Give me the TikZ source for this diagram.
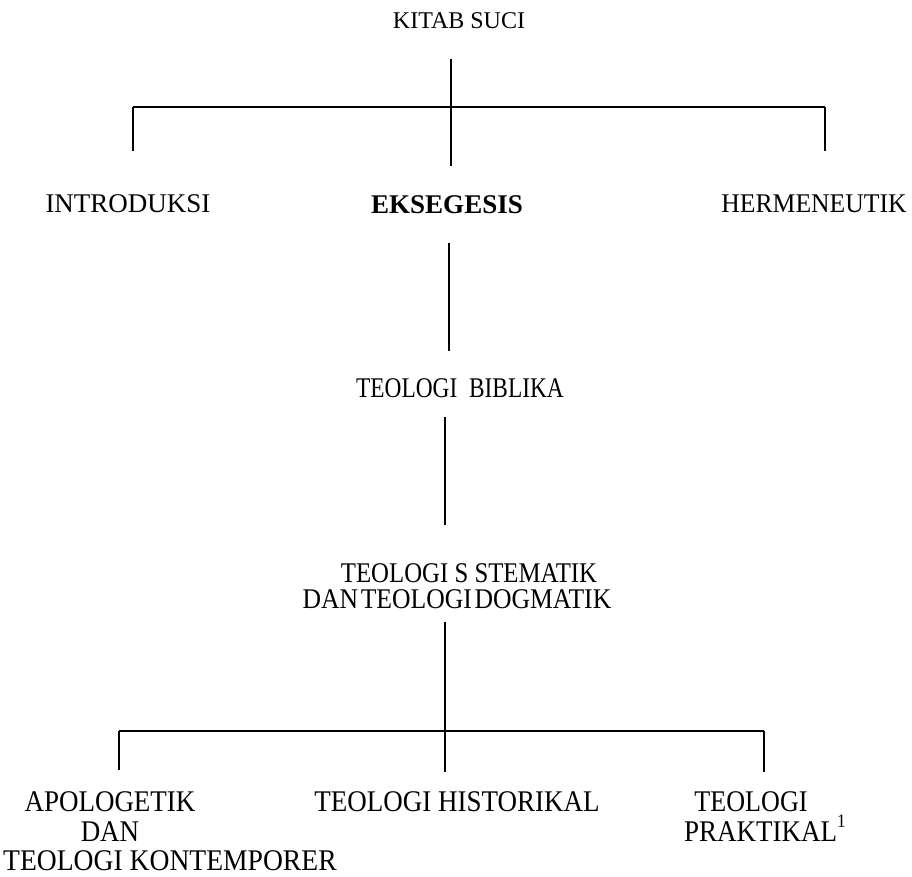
\documentclass[tikz,border=0pt]{standalone}
\usepackage{fontspec}
\setmainfont{Liberation Serif}
\begin{document}
\begin{tikzpicture}[x=1pt,y=-1pt,
  lbl/.style={inner sep=0pt,anchor=base,font=\fontsize{27}{27}\selectfont},
  mid/.style={lbl,font=\fontsize{28.5}{28.5}\selectfont},
  low/.style={lbl,font=\fontsize{30}{30}\selectfont},
  conn/.style={line width=1.2pt}]
\useasboundingbox (0,0) rectangle (912,876);
\fill[white] (0,0) rectangle (912,876);
% texts
\node[lbl,font=\fontsize{24}{24}\selectfont] (kitab) at (459,28) {KITAB SUCI};
\node[lbl] (intro) at (128,212) {INTRODUKSI};
\node[lbl,font=\fontsize{27}{27}\selectfont\bfseries] (eks) at (447,213) {EKSEGESIS};
\node[lbl] (herm) at (814,212) {\scalebox{0.95}[1]{HERMENEUTIK}};
\node[mid] (bib) at (460,397) {\scalebox{0.82}[1]{TEOLOGI\ \ BIBLIKA}};
\node[mid] (sis1) at (469,582) {\scalebox{0.87}[1]{TEOLOGI S STEMATIK}};
\node[mid] (sis2) at (457,608) {\scalebox{0.9}[1]{DAN\hspace{0.1em}TEOLOGI\hspace{0.1em}DOGMATIK}};
\node[low] (apo1) at (110,811) {\scalebox{0.9}[1]{APOLOGETIK}};
\node[low] (apo2) at (110,841) {\scalebox{0.9}[1]{DAN}};
\node[low,anchor=base west] (apo3) at (3,870) {\scalebox{0.92}[1]{TEOLOGI KONTEMPORER}};
\node[low] (hist) at (457,811) {\scalebox{0.9}[1]{TEOLOGI HISTORIKAL}};
\node[low] (prak1) at (751,811) {\scalebox{0.87}[1]{TEOLOGI}};
\node[low,anchor=base west] (prak2) at (684,841) {\scalebox{0.9}[1]{PRAKTIKAL\raisebox{0.45em}{\fontsize{19}{19}\selectfont 1}}};
% connector points
\coordinate (a0) at (451,59);
\coordinate (a1) at (451,107);
\coordinate (a2) at (451,166);
\coordinate (aL) at (133,107);
\coordinate (aLb) at (133,151);
\coordinate (aR) at (825,107);
\coordinate (aRb) at (825,151);
\coordinate (b0) at (449,243);
\coordinate (b1) at (449,351);
\coordinate (c0) at (445,417);
\coordinate (c1) at (445,525);
\coordinate (d0) at (445,622);
\coordinate (d1) at (445,731);
\coordinate (d2) at (445,772);
\coordinate (dL) at (119,731);
\coordinate (dLb) at (119,770);
\coordinate (dR) at (764,731);
\coordinate (dRb) at (764,772);
% connectors
\draw[conn] (a0) -- (a2);
\draw[conn] (aL) -- (aR);
\draw[conn] (aL) -- (aLb);
\draw[conn] (aR) -- (aRb);
\draw[conn] (b0) -- (b1);
\draw[conn] (c0) -- (c1);
\draw[conn] (d0) -- (d2);
\draw[conn] (dL) -- (dR);
\draw[conn] (dL) -- (dLb);
\draw[conn] (dR) -- (dRb);
\end{tikzpicture}
\end{document}
